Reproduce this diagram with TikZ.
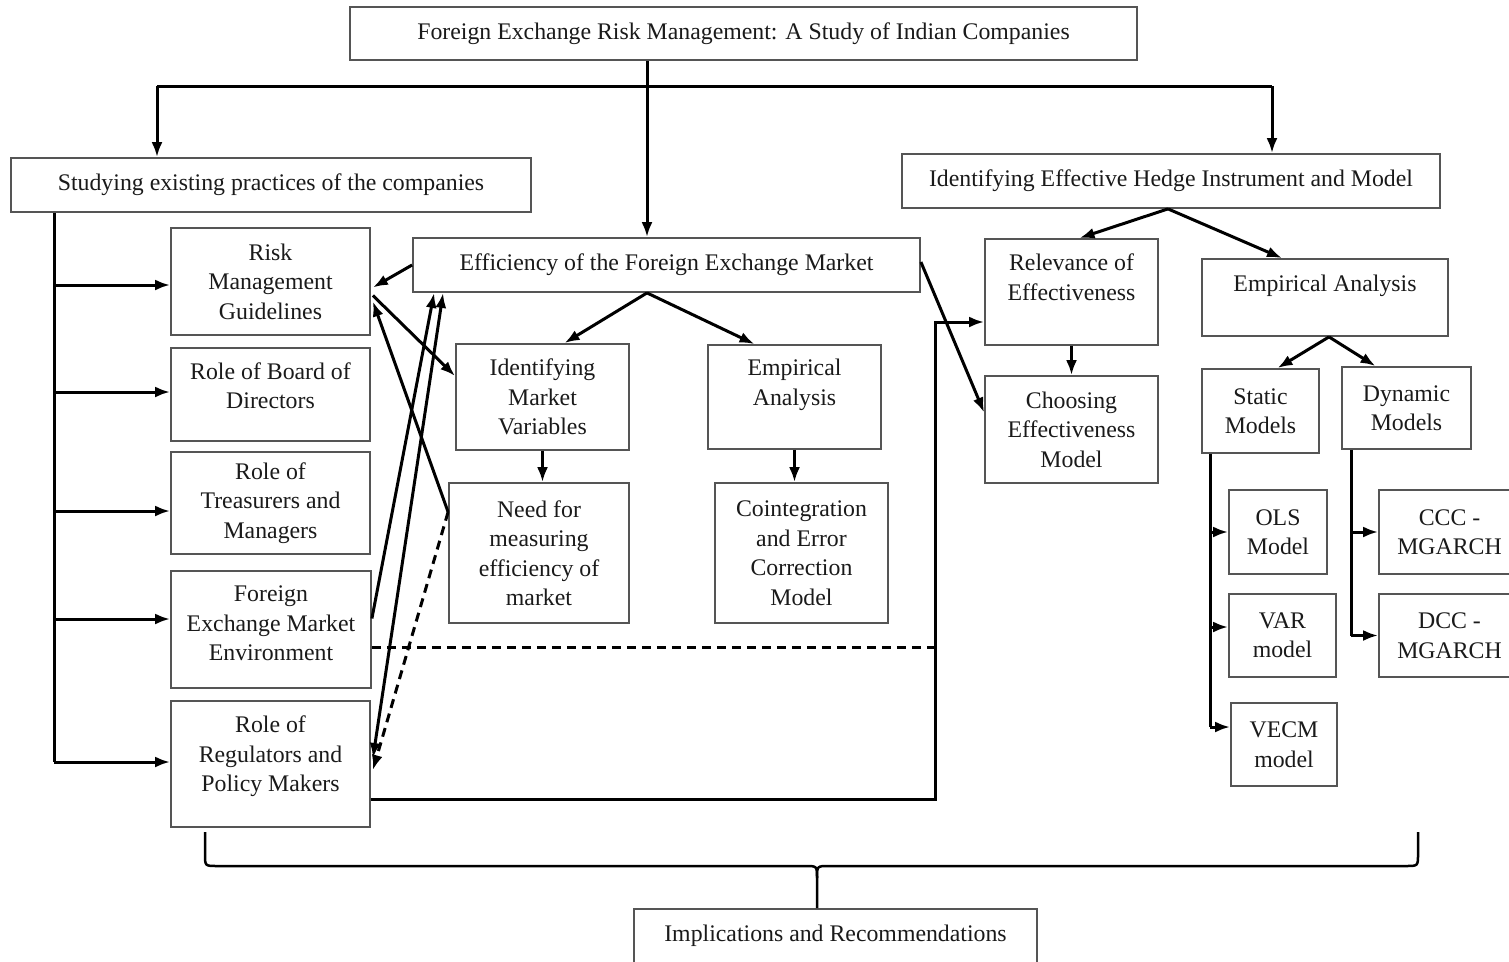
\documentclass[tikz,border=0pt]{standalone}
\usepackage{fontspec}
\setmainfont{Liberation Serif}
\usetikzlibrary{arrows.meta,calc}
\definecolor{boxline}{HTML}{555555}
\definecolor{txt}{HTML}{1A1A1A}
\begin{document}
\begin{tikzpicture}[x=1pt,y=-1pt,
  box/.style={draw=boxline, line width=1.8pt, fill=white, inner sep=0pt, align=center,
    font=\fontsize{23.8}{29.5}\selectfont, text=txt},
  conn/.style={line width=3pt, black},
  arr/.style={conn, -{Latex[length=15pt,width=11pt]}},
  darr/.style={conn, {Latex[length=15pt,width=11pt]}-{Latex[length=15pt,width=11pt]}},
  dashconn/.style={conn, dash pattern=on 9pt off 6pt}
]
\useasboundingbox (0,0) rectangle (1509,961);

% boxes
\node[box, minimum width=787pt, minimum height=53pt] (title) at (743.5,33.5) {Foreign Exchange Risk Management: A Study of Indian Companies};
\node[box, minimum width=520pt, minimum height=54pt] (study) at (271,185) {Studying existing practices of the companies};
\node[box, minimum width=538pt, minimum height=54pt] (hedge) at (1171,181) {Identifying Effective Hedge Instrument and Model};
\node[box, minimum width=507pt, minimum height=54pt] (eff) at (666.5,265) {Efficiency of the Foreign Exchange Market};

\node[box, minimum width=199pt, minimum height=107pt] (rm) at (270.5,281.5) {Risk\\Management\\Guidelines};
\node[box, minimum width=199pt, minimum height=93pt] (board) at (270.5,394.5) {Role of Board of\\Directors\\[-11.5pt]\mbox{}};
\node[box, minimum width=199pt, minimum height=102pt] (treas) at (270.5,503) {Role of\\Treasurers and\\Managers};
\node[box, minimum width=200pt, minimum height=117pt] (fx) at (271,629.5) {Foreign\\Exchange Market\\Environment\\[-17.5pt]\mbox{}};
\node[box, minimum width=199pt, minimum height=126pt] (reg) at (270.5,764) {Role of\\Regulators and\\Policy Makers\\[-9.5pt]\mbox{}};

\node[box, minimum width=173pt, minimum height=106pt] (imv) at (542.5,397) {Identifying\\Market\\Variables};
\node[box, minimum width=173pt, minimum height=104pt] (empm) at (794.5,397) {Empirical\\Analysis\\\mbox{}};
\node[box, minimum width=180pt, minimum height=140pt] (need) at (539,553) {Need for\\measuring\\efficiency of\\market};
\node[box, minimum width=173pt, minimum height=140pt] (coint) at (801.5,553) {Cointegration\\and Error\\Correction\\Model};

\node[box, minimum width=173pt, minimum height=106pt] (rel) at (1071.5,292) {Relevance of\\Effectiveness\\\mbox{}};
\node[box, minimum width=173pt, minimum height=107pt] (choose) at (1071.5,429.5) {Choosing\\Effectiveness\\Model};
\node[box, minimum width=246pt, minimum height=77pt] (empr) at (1325,297.5) {Empirical Analysis\\\mbox{}};
\node[box, minimum width=117pt, minimum height=84pt] (static) at (1260.5,411) {Static\\Models};
\node[box, minimum width=129pt, minimum height=82pt] (dyn) at (1406.5,408) {Dynamic\\Models};
\node[box, minimum width=98pt, minimum height=84pt] (ols) at (1278,532) {OLS\\Model};
\node[box, minimum width=107pt, minimum height=83pt] (var) at (1282.5,635.5) {VAR\\model};
\node[box, minimum width=106pt, minimum height=83pt] (vecm) at (1284,744.5) {VECM\\model};
\node[box, minimum width=141pt, minimum height=84pt] (ccc) at (1449.5,532) {CCC -\\MGARCH};
\node[box, minimum width=141pt, minimum height=83pt] (dcc) at (1449.5,635.5) {DCC -\\MGARCH};

\node[box, minimum width=403pt, minimum height=54pt] (impl) at (835.5,936) {Implications and Recommendations};

% top distribution
\coordinate (j1) at (647,86);
\coordinate (jL) at (157,86);
\coordinate (jR) at (1272,86);
\draw[conn] (j1 |- title.south) -- (j1);
\draw[conn] (jL) -- (jR);
\draw[arr] (jL) -- (jL |- study.north);
\draw[arr] (j1) -- (j1 |- eff.north);
\draw[arr] (jR) -- (jR |- hedge.north);

% studying bus
\coordinate (sb) at ($(study.south west)+(44,0)$);
\draw[conn] (sb) -- ($(sb |- reg.west)+(0,-2)$);
\draw[arr] ($(sb |- rm.west)+(0,3.5)$) -- ($(rm.west)+(0,3.5)$);
\draw[arr] ($(sb |- board.west)+(0,-2.5)$) -- ($(board.west)+(0,-2.5)$);
\draw[arr] ($(sb |- treas.west)+(0,8)$) -- ($(treas.west)+(0,8)$);
\draw[arr] ($(sb |- fx.west)+(0,-10.5)$) -- ($(fx.west)+(0,-10.5)$);
\draw[arr] ($(sb |- reg.west)+(0,-2)$) -- ($(reg.west)+(0,-2)$);

% crossing arrows
\draw[arr] (eff.west) -- ($(rm.east)+(2,6)$);
\draw[arr] ($(rm.east)+(2,14)$) -- ($(imv.west)+(0,-21)$);
\draw[arr] ($(need.west)+(0,-41)$) -- ($(rm.east)+(2,20)$);
\draw[arr] ($(fx.east)+(0,-11)$) -- ($(eff.south west)+(22,0)$);
\draw[darr] ($(reg.east)+(2,-6)$) -- ($(eff.south west)+(31,0)$);
\draw[dashconn, -{Latex[length=15pt,width=11pt]}] ($(need.west)+(0,-41)$) -- ($(reg.east)+(2,6)$);

% dashed and solid link to relevance
\coordinate (vline) at ($(rel.west)+(-49,30)$);
\draw[dashconn] ($(fx.east)+(0,18)$) coordinate (d1) -- (d1 -| vline);
\draw[arr] ($(reg.east)+(0,35)$) -| (vline) -- (vline -| rel.west);
\draw[arr] ($(eff.east)+(0,-3)$) -- ($(choose.west)+(0,-17)$);

% efficiency branches
\coordinate (ea) at (j1 |- eff.south);
\draw[arr] (ea) -- ($(imv.north)+(22,0)$);
\draw[arr] (ea) -- ($(empm.north)+(-40,0)$);
\draw[arr] (imv.south) -- (imv.south |- need.north);
\draw[arr] (empm.south) -- (empm.south |- coint.north);

% hedge branches
\draw[arr] (rel.south) -- (rel.south |- choose.north);
\coordinate (ha) at ($(hedge.south)+(-3,0)$);
\draw[arr] (ha) -- ($(rel.north)+(8,0)$);
\draw[arr] (ha) -- ($(empr.north)+(-43,0)$);
\coordinate (ea2) at ($(empr.south)+(4,0)$);
\draw[arr] (ea2) -- ($(static.north)+(17,0)$);
\draw[arr] (ea2) -- ($(dyn.north)+(-31,0)$);

% static bus
\coordinate (s0) at ($(static.south west)+(9,0)$);
\draw[conn] (s0) -- ($(s0 |- vecm.west)+(0,-17.5)$);
\draw[arr] (s0 |- ols.west) -- (ols.west);
\draw[arr] ($(s0 |- var.west)+(0,-8.5)$) -- ($(var.west)+(0,-8.5)$);
\draw[arr] ($(s0 |- vecm.west)+(0,-17.5)$) -- ($(vecm.west)+(0,-17.5)$);

% dynamic bus
\coordinate (d0) at ($(dyn.south west)+(10,0)$);
\draw[conn] (d0) -- (d0 |- dcc.west);
\draw[arr] (d0 |- ccc.west) -- (ccc.west);
\draw[arr] (d0 |- dcc.west) -- (dcc.west);

% brace
\coordinate (bl) at (205,832);
\coordinate (br) at (1418,832);
\coordinate (bt) at ($(impl.north)+(-18.5,0)$);
\draw[conn, line width=2.5pt] (bl) -- ($(bl)+(0,22)$) .. controls ($(bl)+(0,34)$) .. ($(bl)+(12,34)$)
  -- ($(bt |- bl)+(-12,34)$) .. controls ($(bt |- bl)+(0,34)$) .. ($(bt |- bl)+(0,46)$) -- (bt);
\draw[conn, line width=2.5pt] (br) -- ($(br)+(0,22)$) .. controls ($(br)+(0,34)$) .. ($(br)+(-12,34)$)
  -- ($(bt |- br)+(12,34)$) .. controls ($(bt |- br)+(0,34)$) .. ($(bt |- br)+(0,46)$);
\end{tikzpicture}
\end{document}
